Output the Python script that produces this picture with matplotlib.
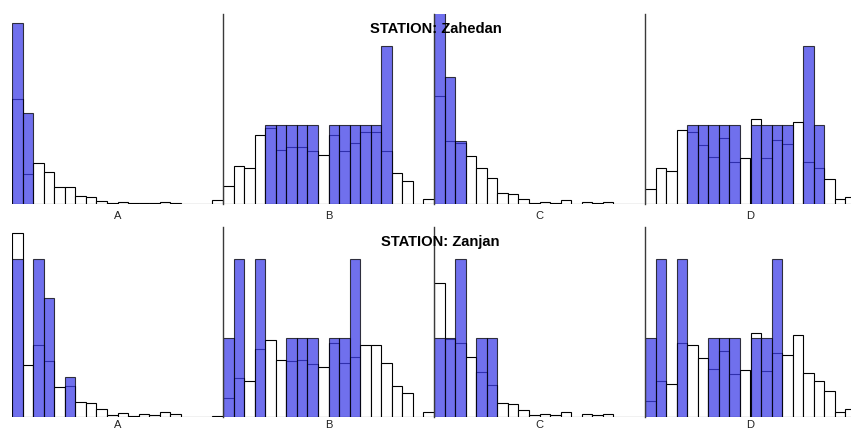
import numpy as np
import matplotlib
matplotlib.use('Agg')
import matplotlib.pyplot as plt

plt.rcParams['font.family'] = ['Liberation Sans', 'DejaVu Sans']

stations = ['Zahedan', 'Zanjan']
groups = ['A', 'B', 'C', 'D']

# long-term frequency (%) per class, 20 classes per group
zahedan_ref = {
    'A': [13.3, 3.8, 5.2, 4.0, 2.1, 2.2, 1.05, 0.9, 0.4, 0.13, 0.25, 0.13, 0.1, 0.1, 0.3, 0.1, 0.05, 0, 0, 0.5],
    'B': [2.3, 4.85, 4.5, 8.7, 9.6, 6.8, 7.25, 7.25, 6.75, 6.2, 8.7, 6.75, 7.7, 9.15, 9.15, 6.75, 3.9, 2.95, 0, 0.65],
    'C': [13.6, 8.0, 7.7, 6.1, 4.5, 3.25, 1.35, 1.25, 0.6, 0.1, 0.3, 0.15, 0.5, 0, 0.2, 0.15, 0.3, 0, 0, 0],
    'D': [1.9, 4.5, 4.2, 9.35, 9.1, 7.4, 6.0, 8.3, 5.35, 5.8, 10.7, 5.8, 8.1, 7.6, 10.35, 5.35, 4.5, 3.15, 0.6, 0.9],
}
# sample frequency (%) per class
zahedan_obs = {
    'A': [22.9, 11.5, 0, 0, 0, 0, 0, 0, 0, 0, 0, 0, 0, 0, 0, 0, 0, 0, 0, 0],
    'B': [0, 0, 0, 0, 10, 10, 10, 10, 10, 0, 10, 10, 10, 10, 10, 20, 0, 0, 0, 0],
    'C': [25, 16, 8, 0, 0, 0, 0, 0, 0, 0, 0, 0, 0, 0, 0, 0, 0, 0, 0, 0],
    'D': [0, 0, 0, 0, 10, 10, 10, 10, 10, 0, 10, 10, 10, 10, 0, 20, 10, 0, 0, 0],
}
zanjan_ref = {
    'A': [23.3, 6.6, 9.05, 7.05, 3.8, 3.9, 1.8, 1.7, 0.95, 0.2, 0.5, 0.1, 0.35, 0.2, 0.55, 0.35, 0, 0, 0, 0.15],
    'B': [2.4, 4.9, 4.55, 8.55, 9.7, 7.15, 7.05, 7.15, 6.65, 6.25, 9.4, 6.75, 7.6, 9.05, 9.05, 6.8, 3.9, 2.95, 0, 0.65],
    'C': [17.0, 9.85, 9.4, 7.6, 5.7, 4.0, 1.75, 1.6, 0.85, 0.2, 0.35, 0.2, 0.65, 0, 0.3, 0.2, 0.3, 0, 0, 0],
    'D': [2.0, 4.55, 4.2, 9.4, 9.05, 7.5, 6.0, 8.3, 5.4, 5.9, 10.65, 5.8, 8.1, 7.8, 10.3, 5.5, 4.55, 3.25, 0.65, 0.95],
}
zanjan_obs = {
    'A': [20, 0, 20, 15, 0, 5, 0, 0, 0, 0, 0, 0, 0, 0, 0, 0, 0, 0, 0, 0],
    'B': [10, 20, 0, 20, 0, 0, 10, 10, 10, 0, 10, 10, 20, 0, 0, 0, 0, 0, 0, 0],
    'C': [10, 10, 20, 0, 10, 10, 0, 0, 0, 0, 0, 0, 0, 0, 0, 0, 0, 0, 0, 0],
    'D': [10, 20, 0, 20, 0, 0, 10, 10, 10, 0, 10, 10, 20, 0, 0, 0, 0, 0, 0, 0],
}

ref_data = [zahedan_ref, zanjan_ref]
obs_data = [zahedan_obs, zanjan_obs]

W, H = 851, 430
fig = plt.figure(figsize=(W / 100, H / 100), dpi=100)
fig.patch.set_facecolor('white')

row_top = [14, 227.3]      # px from top
row_h = [190, 189.4]
label_off = [-8.8, -6.0]   # group label offset below each row, points
panel_w = 211
x0 = 12
blue = (64 / 255, 64 / 255, 232 / 255)

for r in range(2):
    for k, g in enumerate(groups):
        left = (x0 + k * panel_w) / W
        bottom = 1 - (row_top[r] + row_h[r]) / H
        ax = fig.add_axes([left, bottom, panel_w / W, row_h[r] / H])
        ref = np.array(ref_data[r][g])
        obs = np.array(obs_data[r][g])
        bins = np.arange(len(ref))
        ax.bar(bins, ref, width=1, align='edge', color='white',
               edgecolor='black', linewidth=0.8, zorder=2)
        m = obs > 0
        ax.bar(bins[m], obs[m], width=1, align='edge', color=blue, alpha=0.75,
               edgecolor='black', linewidth=0.8, zorder=3)
        ax.set_xlim(0, 20)
        ax.set_ylim(0, 24)
        ax.set_xticks([])
        ax.set_yticks([])
        for s in ['top', 'right', 'bottom']:
            ax.spines[s].set_visible(False)
        if k == 0:
            ax.spines['left'].set_visible(False)
        else:
            ax.spines['left'].set_color('#3a3a3a')
            ax.spines['left'].set_linewidth(1.0)
            ax.spines['left'].set_zorder(4)
        ax.annotate(g, xy=(0.5, 0), xycoords='axes fraction',
                    xytext=(0, label_off[r]), textcoords='offset points',
                    ha='center', va='center', fontsize=8, color='#222222')

fig.text(436 / W, 1 - 29 / H, 'STATION: ' + stations[0], ha='center', va='center',
         fontsize=10.6, fontweight='bold', color='black', zorder=10)
fig.text(440 / W, 1 - 242 / H, 'STATION: ' + stations[1], ha='center', va='center',
         fontsize=10.6, fontweight='bold', color='black', zorder=10)

fig.savefig('out.png', dpi=100)
